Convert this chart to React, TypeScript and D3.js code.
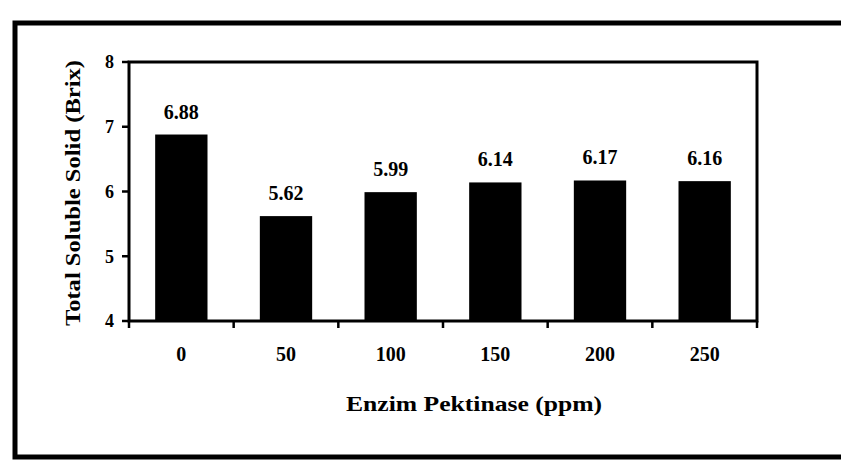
import React from "react";
import * as d3 from "d3";

const categories = ["0", "50", "100", "150", "200", "250"];
const values = [6.88, 5.62, 5.99, 6.14, 6.17, 6.16];
const valueLabels = ["6.88", "5.62", "5.99", "6.14", "6.17", "6.16"];
const yTicks = [4, 5, 6, 7, 8];
const xTitle = "Enzim Pektinase (ppm)";
const yTitle = "Total Soluble Solid (Brix)";

const W = 841;
const H = 460;
const plot = { left: 129, right: 757, top: 62, bottom: 321 };
const font = "Liberation Serif, DejaVu Serif, serif";

export default function App() {
  const x = d3
    .scaleBand<string>()
    .domain(categories)
    .range([plot.left, plot.right])
    .paddingInner(0.5)
    .paddingOuter(0.25);
  const y = d3.scaleLinear().domain([4, 8]).range([plot.bottom, plot.top]);
  const boundaries = d3
    .range(categories.length + 1)
    .map((i) => plot.left + i * ((plot.right - plot.left) / categories.length));

  return (
    <svg
      width={W}
      height={H}
      style={{ position: "absolute", left: 0, top: 0, background: "#fff" }}
    >
      <rect x={0} y={0} width={W} height={H} fill="#fff" />
      {/* outer frame */}
      <rect x={15} y={23} width={W + 20} height={434} fill="none" stroke="#000" strokeWidth={5} />
      {/* bars */}
      {values.map((v, i) => (
        <rect
          key={categories[i]}
          x={x(categories[i])}
          y={y(v)}
          width={x.bandwidth()}
          height={y(4) - y(v)}
          fill="#000"
        />
      ))}
      {/* plot frame */}
      <rect
        x={plot.left}
        y={plot.top}
        width={plot.right - plot.left}
        height={plot.bottom - plot.top}
        fill="none"
        stroke="#000"
        strokeWidth={3}
      />
      {/* y ticks */}
      {yTicks.map((t) => (
        <g key={t}>
          <line x1={plot.left - 7} x2={plot.left} y1={y(t)} y2={y(t)} stroke="#000" strokeWidth={2.5} />
          <text
            x={plot.left - 15}
            y={y(t)}
            dy="0.35em"
            textAnchor="end"
            fontFamily={font}
            fontWeight="bold"
            fontSize={18}
          >
            {t}
          </text>
        </g>
      ))}
      {/* x ticks */}
      {boundaries.map((b, i) => (
        <line key={i} x1={b} x2={b} y1={plot.bottom} y2={plot.bottom + 7} stroke="#000" strokeWidth={2.5} />
      ))}
      {categories.map((c) => (
        <text
          key={c}
          x={(x(c) as number) + x.bandwidth() / 2}
          y={361}
          textAnchor="middle"
          fontFamily={font}
          fontWeight="bold"
          fontSize={20}
        >
          {c}
        </text>
      ))}
      {/* value labels */}
      {values.map((v, i) => (
        <text
          key={"v" + i}
          x={(x(categories[i]) as number) + x.bandwidth() / 2}
          y={y(v) - 16}
          textAnchor="middle"
          fontFamily={font}
          fontWeight="bold"
          fontSize={20}
        >
          {valueLabels[i]}
        </text>
      ))}
      {/* axis titles */}
      <text
        x={474}
        y={411}
        textAnchor="middle"
        fontFamily={font}
        fontWeight="bold"
        fontSize={22}
        textLength={256}
        lengthAdjust="spacingAndGlyphs"
      >
        {xTitle}
      </text>
      <text
        transform={`translate(80, 193) rotate(-90)`}
        textAnchor="middle"
        fontFamily={font}
        fontWeight="bold"
        fontSize={22}
        textLength={266}
        lengthAdjust="spacingAndGlyphs"
      >
        {yTitle}
      </text>
    </svg>
  );
}
